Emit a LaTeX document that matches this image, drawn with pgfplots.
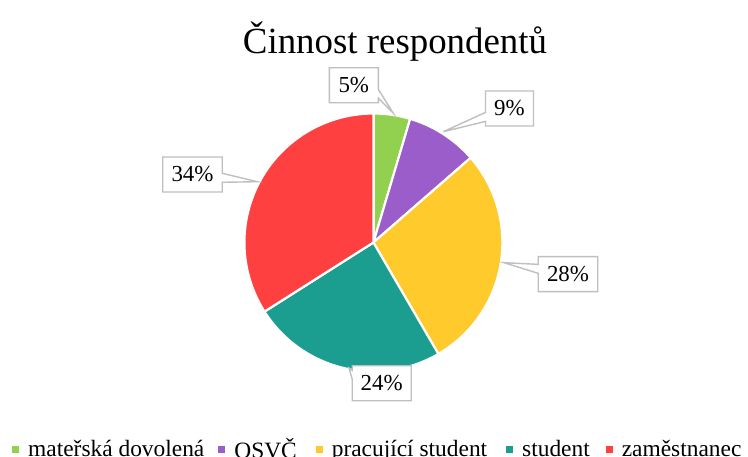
\documentclass[border=0pt]{standalone}
\usepackage{fontspec}
\setmainfont{Liberation Serif}
\usepackage{pgfplots}
\pgfplotsset{compat=1.18}
\usetikzlibrary{shapes.callouts}
\definecolor{cGreen}{RGB}{146,208,80}
\definecolor{cPurple}{RGB}{155,93,201}
\definecolor{cYellow}{RGB}{255,202,43}
\definecolor{cTeal}{RGB}{27,158,143}
\definecolor{cRed}{RGB}{255,64,64}
\definecolor{cBox}{RGB}{191,191,191}
% shares (percent)
\def\vA{4.6}  % materska dovolena
\def\vB{9.0}  % OSVC
\def\vC{28.0} % pracujici student
\def\vD{24.4} % student
\def\vE{34.0} % zamestnanec
\pgfmathsetmacro\aA{90}
\pgfmathsetmacro\aB{\aA-3.6*\vA}
\pgfmathsetmacro\aC{\aB-3.6*\vB}
\pgfmathsetmacro\aD{\aC-3.6*\vC}
\pgfmathsetmacro\aE{\aD-3.6*\vD}
\pgfmathsetmacro\aF{\aE-3.6*\vE}
\def\cx{373.4}
\def\cy{214.5}
\def\R{129}
\begin{document}
\begin{tikzpicture}
\begin{axis}[at={(0,0)}, anchor=south west, scale only axis,
  width=748bp, height=457bp, xmin=0, xmax=748, ymin=0, ymax=457,
  hide axis, clip=false,
  legend columns=-1,
  legend style={draw=none, fill=none, inner sep=0pt, at={(0.01604,0.0175)}, anchor=west,
    font=\fontsize{23.5}{28}\selectfont,
    nodes={inner sep=0pt},
    /tikz/every odd column/.append style={column sep=9bp},
    /tikz/column 2/.append style={column sep=14bp},
    /tikz/column 4/.append style={column sep=19bp},
    /tikz/column 6/.append style={column sep=19bp},
    /tikz/column 8/.append style={column sep=16bp}},
  legend image code/.code={\fill[#1, draw=none] (0bp,-3.5bp) rectangle (7bp,3.5bp);},
  samples=80, variable=\t]
\addplot[fill=cGreen, draw=white, line width=2.2bp, domain=\aB:\aA] ({\cx+\R*cos(\t)},{\cy+\R*sin(\t)}) -- (axis cs:\cx,\cy) -- cycle;
\addlegendentry{mateřská dovolená}
\addplot[fill=cPurple, draw=white, line width=2.2bp, domain=\aC:\aB] ({\cx+\R*cos(\t)},{\cy+\R*sin(\t)}) -- (axis cs:\cx,\cy) -- cycle;
\addlegendentry{OSVČ}
\addplot[fill=cYellow, draw=white, line width=2.2bp, domain=\aD:\aC] ({\cx+\R*cos(\t)},{\cy+\R*sin(\t)}) -- (axis cs:\cx,\cy) -- cycle;
\addlegendentry{pracující student}
\addplot[fill=cTeal, draw=white, line width=2.2bp, domain=\aE:\aD] ({\cx+\R*cos(\t)},{\cy+\R*sin(\t)}) -- (axis cs:\cx,\cy) -- cycle;
\addlegendentry{student}
\addplot[fill=cRed, draw=white, line width=2.2bp, domain=\aF:\aE] ({\cx+\R*cos(\t)},{\cy+\R*sin(\t)}) -- (axis cs:\cx,\cy) -- cycle;
\addlegendentry{zaměstnanec}
\tikzset{lbl/.style={rectangle callout, draw=cBox, line width=1.4bp, fill=white,
  font=\fontsize{23}{27}\selectfont, minimum height=35bp, inner sep=0pt, callout pointer width=9bp}}
\node[lbl, minimum width=49bp, callout absolute pointer={(axis cs:393.3,343.7)}] at (axis cs:353.8,371.7) {5\%};
\node[lbl, minimum width=48bp, callout absolute pointer={(axis cs:443.3,325.3)}] at (axis cs:509.5,348.5) {9\%};
\node[lbl, minimum width=59.5bp, callout absolute pointer={(axis cs:504,194.3)}] at (axis cs:568,182.8) {28\%};
\node[lbl, minimum width=59bp, callout absolute pointer={(axis cs:349,89)}] at (axis cs:381.7,73.7) {24\%};
\node[lbl, minimum width=59.5bp, callout absolute pointer={(axis cs:257.3,275.3)}] at (axis cs:192.5,282.5) {34\%};
\node[anchor=base, font=\fontsize{37}{44}\selectfont] at (axis cs:395,403.7) {Činnost respondentů};
\end{axis}
\pgfresetboundingbox
\useasboundingbox (0,0) rectangle (748bp,457bp);
\end{tikzpicture}
\end{document}
